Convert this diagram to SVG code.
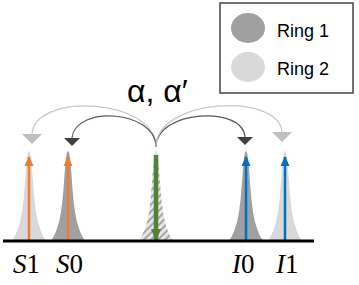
<svg xmlns="http://www.w3.org/2000/svg" width="359" height="285" viewBox="0 0 359 285">
<style>
.lbl{font-family:"Liberation Serif","Times New Roman",serif;font-size:27px;fill:#000}
.it{font-style:italic}
.leg{font-family:"Liberation Sans",Arial,sans-serif;font-size:18px;fill:#000}
.dark{fill:#a0a0a0}
.light{fill:#d9d9d9}
.cd{fill:none;stroke:#5a5a5a;stroke-width:1.2}
.cl{fill:none;stroke:#c8c8c8;stroke-width:1.2}
.up-o{stroke:#ed7d31;stroke-width:2.5;fill:none}
.up-b{stroke:#0070c0;stroke-width:2.5;fill:none}
</style>
<defs>
<path id="peak" d="M-17,241 L-14.5,237 L-11.5,230 L-9,222 L-7,212 L-5.5,200 L-4.3,186 L-3.3,172 L-2.3,160 L-1.3,153.5 L0,150.5 L1.3,153.5 L2.3,160 L3.3,172 L4.3,186 L5.5,200 L7,212 L9,222 L11.5,230 L14.5,237 L17,241 Z"/>
<pattern id="hatch" width="5" height="5" patternUnits="userSpaceOnUse" patternTransform="rotate(45)">
<rect width="5" height="5" fill="#e6e6e6"/>
<line x1="1" y1="0" x2="1" y2="5" stroke="#a6a6a6" stroke-width="2"/>
</pattern>
<marker id="mo" markerUnits="userSpaceOnUse" markerWidth="10" markerHeight="10" viewBox="0 -5 10 10" refX="9" refY="0" orient="auto"><path d="M0,-4.5 L10,0 L0,4.5 Z" fill="#ed7d31"/></marker>
<marker id="mb" markerUnits="userSpaceOnUse" markerWidth="10" markerHeight="10" viewBox="0 -5 10 10" refX="9" refY="0" orient="auto"><path d="M0,-4.5 L10,0 L0,4.5 Z" fill="#0070c0"/></marker>
<marker id="mg" markerUnits="userSpaceOnUse" markerWidth="12" markerHeight="14" viewBox="0 -6 13 12" refX="12" refY="0" orient="auto"><path d="M0,-5.5 L13,0 L0,5.5 Z" fill="#548235"/></marker>
<marker id="td" markerUnits="userSpaceOnUse" markerWidth="20" markerHeight="20" viewBox="0 -10 10 20" refX="0" refY="0" orient="90"><path d="M0,-8 L8,0 L0,8 Z" fill="#404040"/></marker>
<marker id="tl" markerUnits="userSpaceOnUse" markerWidth="24" markerHeight="24" viewBox="0 -12 12 24" refX="0" refY="0" orient="90"><path d="M0,-10 L10,0 L0,10 Z" fill="#bfbfbf"/></marker>
</defs>
<rect width="359" height="285" fill="#fff"/>

<g id="S1">
<use href="#peak" transform="translate(29,0)" class="light"/>
<line x1="29" y1="241" x2="29" y2="157" class="up-o" marker-end="url(#mo)"/>
<text class="lbl" x="13" y="273"><tspan class="it">S</tspan>1</text>
</g>
<g id="S0">
<use href="#peak" transform="translate(68,0)" class="dark"/>
<line x1="68" y1="241" x2="68" y2="157" class="up-o" marker-end="url(#mo)"/>
<text class="lbl" x="56" y="273"><tspan class="it">S</tspan>0</text>
</g>
<g id="pump">
<use href="#peak" transform="translate(156,0)" fill="url(#hatch)"/>
<line x1="156" y1="155" x2="156" y2="240" stroke="#548235" stroke-width="4.5" marker-end="url(#mg)"/>
</g>
<g id="I0">
<use href="#peak" transform="translate(246,0)" class="dark"/>
<line x1="246" y1="241" x2="246" y2="157" class="up-b" marker-end="url(#mb)"/>
<text class="lbl" x="232" y="273"><tspan class="it">I</tspan>0</text>
</g>
<g id="I1">
<use href="#peak" transform="translate(285,0)" class="light"/>
<line x1="285" y1="241" x2="285" y2="157" class="up-b" marker-end="url(#mb)"/>
<text class="lbl" x="276" y="273"><tspan class="it">I</tspan>1</text>
</g>

<line id="axis" x1="3" y1="241" x2="314" y2="241" stroke="#000" stroke-width="3"/>

<g id="connectors">
<path class="cl" d="M156,147 C156,98 35,92 32,134" marker-end="url(#tl)"/>
<path class="cd" d="M156,147 C156,110 75,105 72,138" marker-end="url(#td)"/>
<path class="cd" d="M156,147 C156,110 243,105 245,137" marker-end="url(#td)"/>
<path class="cl" d="M156,147 C156,98 279,92 282,132" marker-end="url(#tl)"/>
</g>

<text id="alpha" x="127" y="102" font-family="'Liberation Sans',Arial,sans-serif" font-size="32" fill="#000">α, α′</text>

<g id="legend">
<rect x="220" y="3" width="133" height="90" fill="#fff" stroke="#404040" stroke-width="1.5"/>
<ellipse cx="248" cy="28" rx="17" ry="15" fill="#a0a0a0"/>
<text class="leg" x="277" y="37">Ring 1</text>
<ellipse cx="248" cy="67" rx="17" ry="15" fill="#d9d9d9"/>
<text class="leg" x="277" y="75">Ring 2</text>
</g>
</svg>
